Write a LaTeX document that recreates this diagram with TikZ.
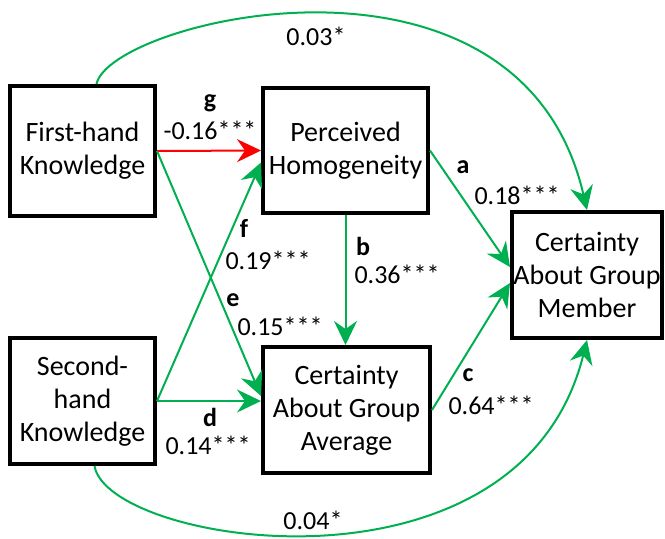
\documentclass[tikz,border=0pt]{standalone}
\usepackage{fontspec}
\setmainfont{Carlito}
\usetikzlibrary{arrows.meta, calc}
\definecolor{pg}{HTML}{00B050}
\definecolor{pr}{HTML}{FF0000}

\begin{document}
\begin{tikzpicture}[
  x=0.5pt, y=-0.5pt,
  box/.style={draw, line width=2pt, align=center, inner sep=0pt,
    font=\fontsize{14}{16.5}\selectfont},
  link/.style={draw=pg, line width=1pt,
    -{Stealth[length=12pt, width=11.5pt, inset=4pt]}},
  neg/.style={link, draw=pr},
  lbl/.style={font=\fontsize{13}{15}\selectfont, inner sep=0pt},
  letter/.style={lbl, font=\fontsize{13}{15}\selectfont\bfseries},
]
\useasboundingbox (0,0) rectangle (665,538);
% Boxes
\node[box, minimum width=72.5pt, minimum height=65pt] (fhk) at (82.5,151) {First-hand\\Knowledge};
\node[box, minimum width=72.5pt, minimum height=63pt] (shk) at (82.5,401) {Second-\\hand\\Knowledge};
\node[box, minimum width=82.5pt, minimum height=62.5pt] (ph) at (345.5,150.5) {Perceived\\Homogeneity};
\node[box, minimum width=83.5pt, minimum height=63pt] (cga) at (346.5,410) {Certainty\\About Group\\Average};
\node[box, minimum width=75pt, minimum height=63pt] (cgm) at (587,275) {Certainty\\About Group\\Member};
% Paths
\draw[neg] (fhk.east) -- (ph.west);
\draw[link] (fhk.east) -- ($(cga.west)+(0,-14)$);
\draw[link] (shk.east) -- ($(ph.west)+(0,12)$);
\draw[link] (shk.east) -- (shk.east -| cga.west);
\draw[link] (ph.south) -- (ph.south |- cga.north);
\draw[link] (ph.east) -- ($(cgm.west)+(0,-8)$);
\draw[link] (cga.east) -- ($(cgm.west)+(0,8)$);
\draw[link] ($(fhk.north)+(14,0)$) .. controls (110,20) and (520,-80) .. (cgm.north);
\draw[link] ($(shk.south)+(12,0)$) .. controls (108,545) and (520,610) .. (cgm.south);
% Coefficients
\foreach \n/\lx/\ly/\vx/\vy/\v in {
  g/210/103/210/130/-0.16***,
  f/244/228/268/260/0.19***,
  e/233/300/280/326/0.15***,
  b/363/246/397/274/0.36***,
  d/210/417/208/445/0.14***,
  a/463/167/517/195/0.18***,
  c/468/375/491/405/0.64***%
}{
  \node[letter] (\n l) at (\lx,\ly) {\n};
  \node[lbl] (\n v) at (\vx,\vy) {\v};
}
\node[lbl] (topv) at (316,36) {0.03*};
\node[lbl] (botv) at (313,520) {0.04*};
\end{tikzpicture}
\end{document}
